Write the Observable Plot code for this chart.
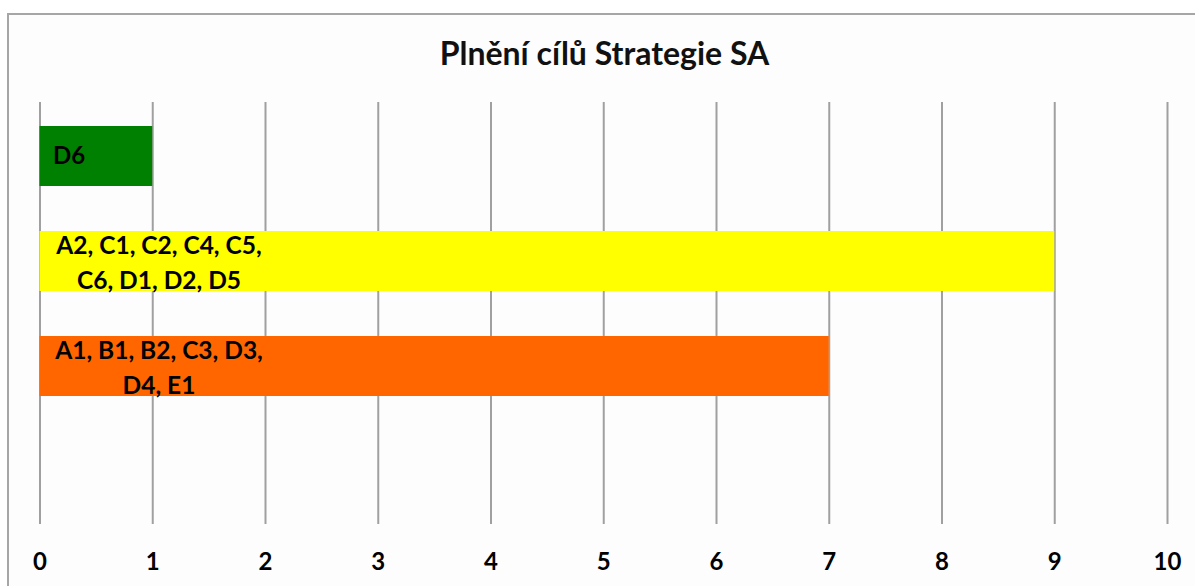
<!DOCTYPE html>
<html>
<head>
<meta charset="utf-8">
<script src="https://cdn.jsdelivr.net/npm/d3@7"></script>
<script src="https://cdn.jsdelivr.net/npm/@observablehq/plot@0.6"></script>
<style>
  html, body { margin: 0; padding: 0; background: #ffffff; overflow: hidden; }
  #wrap { position: relative; width: 1195px; height: 586px; overflow: hidden; }
  #frame { position: absolute; left: 7px; top: 13px; width: 1400px; height: 800px;
           border: 2px solid #a6a6a6; background: #fcfdfc; }
  #chart { position: absolute; left: 0; top: 0; width: 1195px; }
  #title { height: 90px; box-sizing: border-box; padding-top: 38px; text-align: center;
           font-family: Lato, sans-serif; font-weight: bold; font-size: 32px; color: #111;
           line-height: 30px; padding-left: 14px; }
  svg { display: block; background: transparent; }
</style>
</head>
<body>
<div id="wrap">
  <div id="frame"></div>
  <div id="chart">
    <div id="title">Plnění cílů Strategie SA</div>
  </div>
</div>
<script>
// Data
const categories = ["zelená", "žlutá", "oranžová", "červená"];
const values = [1, 9, 7, 0];
const labels = ["D6", "A2, C1, C2, C4, C5,\nC6, D1, D2, D5", "A1, B1, B2, C3, D3,\nD4, E1", ""];
const colors = ["#008000", "#ffff00", "#ff6600", "#ff0000"];
const xTicks = [0, 1, 2, 3, 4, 5, 6, 7, 8, 9, 10];

const data = categories.map((c, i) => ({category: c, value: values[i], label: labels[i], color: colors[i]}));
const single = data.filter(d => d.label && !d.label.includes("\n"));
const multi = data.filter(d => d.label.includes("\n"));

const plot = Plot.plot({
  width: 1195,
  height: 496,
  marginTop: 12,
  marginBottom: 62,
  marginLeft: 39.5,
  marginRight: 28,
  style: {background: "transparent", fontFamily: "Lato, sans-serif"},
  x: {domain: [0, 10], ticks: xTicks},
  y: {domain: categories, paddingInner: 0.43, paddingOuter: 0.215, axis: null},
  marks: [
    Plot.ruleX(xTicks, {stroke: "#a0a0a0", strokeWidth: 2}),
    Plot.barX(data, {x: "value", y: "category", fill: "color"}),
    Plot.text(single, {x: 0, y: "category", text: "label", textAnchor: "start", dx: 13,
      fontSize: 24, fontWeight: "bold", fill: "#000"}),
    Plot.text(multi, {x: 0, y: "category", text: "label", textAnchor: "middle", dx: 119, dy: -1,
      fontSize: 24.5, fontWeight: "bold", fill: "#000", lineHeight: 1.42}),
    Plot.axisX(xTicks, {tickSize: 0, tickPadding: 28, fontSize: 24, fontWeight: "bold",
      fill: "#000", tickFormat: d => String(d), label: null})
  ]
});
document.getElementById("chart").appendChild(plot);
</script>
</body>
</html>
